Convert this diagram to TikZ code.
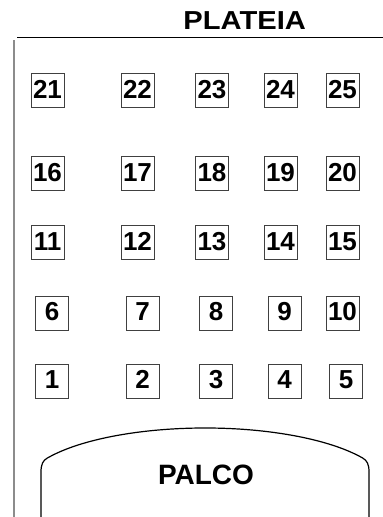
\documentclass[tikz,border=0pt]{standalone}
\usepackage{fontspec}
\setmainfont{Liberation Sans}
\begin{document}
\begin{tikzpicture}[x=1pt,y=-1pt,
  seat/.style={draw=black!75,line width=0.8pt,minimum width=33pt,minimum height=34pt,inner sep=0pt,
    text height=19pt,text depth=4pt,font=\fontsize{26}{30}\selectfont\bfseries},
  title/.style={anchor=base,inner sep=0pt,font=\fontsize{26}{30}\selectfont\bfseries}]
\useasboundingbox (0,0) rectangle (383,517);
% walls
\draw[line width=1pt] (17,37) -- (383,37);
\draw[black!45,line width=2.2pt] (14.3,40) -- (14.3,517);
\node[title,xscale=1.12] (plateia) at (244.7,29.3) {PLATEIA};
% seats rows 1-3
\foreach \n/\x in {21/47.5,22/137.5,23/212,24/280.5,25/342.5}{\node[seat] (s\n) at (\x,90.5) {\n};}
\foreach \n/\x in {16/47.5,17/137.5,18/212,19/280.5,20/342.5}{\node[seat] (s\n) at (\x,173.5) {\n};}
\foreach \n/\x in {11/47.5,12/137.5,13/212,14/280.5,15/342.5}{\node[seat] (s\n) at (\x,242.5) {\n};}
\foreach \n/\x in {6/52,7/142.5,8/216,9/284.5,10/342.5}{\node[seat] (s\n) at (\x,313) {\n};}
\foreach \n/\x in {1/52,2/142.5,3/216,4/284.5,5/346}{\node[seat] (s\n) at (\x,381) {\n};}
% stage
\draw[line width=1.2pt] (41,517) -- (41,472) .. controls (41,464) and (43,460.5) .. (47.4,458)
  arc[start angle=210,end angle=330,x radius=182,y radius=60]
  .. controls (367,460.5) and (369,464) .. (369,472) -- (369,517);
\node[title,font=\fontsize{28}{32}\selectfont\bfseries] (palco) at (206,484.3) {PALCO};
\end{tikzpicture}
\end{document}
